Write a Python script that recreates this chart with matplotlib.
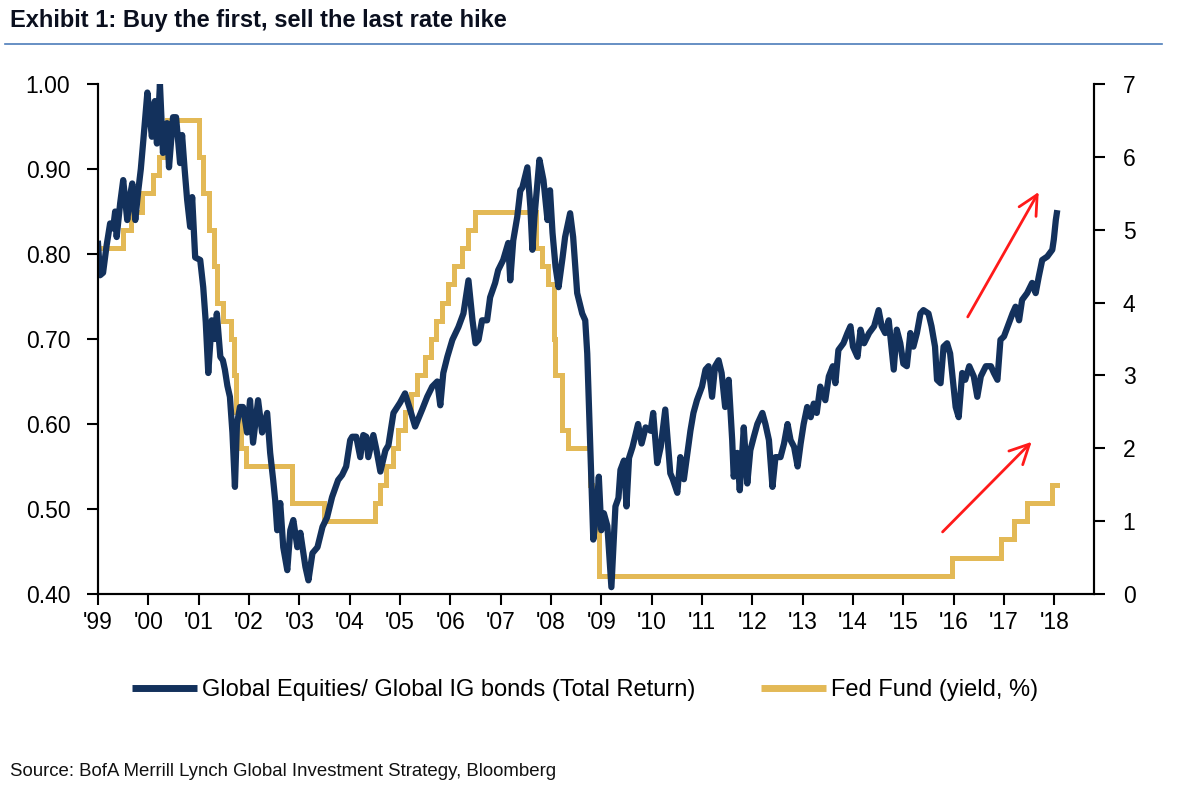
import matplotlib
matplotlib.use("Agg")
import matplotlib.pyplot as plt
from matplotlib.lines import Line2D

plt.rcParams["font.family"] = ["Liberation Sans", "DejaVu Sans"]

# Global equities / global IG bonds total return ratio
eq_year = [
    1999.00, 1999.04, 1999.10, 1999.17, 1999.24, 1999.30, 1999.34, 1999.37, 1999.44, 1999.50,
    1999.58, 1999.64, 1999.68, 1999.74, 1999.80, 1999.85, 1999.90, 1999.98, 2000.03, 2000.07,
    2000.13, 2000.17, 2000.23, 2000.29, 2000.33, 2000.37, 2000.41, 2000.49, 2000.55, 2000.63,
    2000.67, 2000.72, 2000.77, 2000.83, 2000.87, 2000.93, 2001.03, 2001.09, 2001.14, 2001.19,
    2001.26, 2001.32, 2001.36, 2001.43, 2001.48, 2001.52, 2001.57, 2001.62, 2001.67, 2001.72,
    2001.76, 2001.82, 2001.88, 2001.96, 2002.02, 2002.08, 2002.18, 2002.26, 2002.36, 2002.42,
    2002.48, 2002.52, 2002.56, 2002.62, 2002.68, 2002.76, 2002.82, 2002.88, 2002.96, 2003.02,
    2003.12, 2003.18, 2003.26, 2003.36, 2003.46, 2003.55, 2003.65, 2003.77, 2003.85, 2003.93,
    2004.01, 2004.05, 2004.13, 2004.21, 2004.27, 2004.33, 2004.37, 2004.47, 2004.53, 2004.61,
    2004.71, 2004.77, 2004.87, 2005.00, 2005.10, 2005.20, 2005.30, 2005.44, 2005.54, 2005.64,
    2005.74, 2005.80, 2005.86, 2005.94, 2006.04, 2006.16, 2006.26, 2006.36, 2006.44, 2006.50,
    2006.56, 2006.63, 2006.73, 2006.79, 2006.89, 2006.95, 2007.05, 2007.15, 2007.19, 2007.25,
    2007.33, 2007.39, 2007.43, 2007.53, 2007.59, 2007.63, 2007.67, 2007.77, 2007.85, 2007.93,
    2007.98, 2008.03, 2008.09, 2008.15, 2008.23, 2008.28, 2008.38, 2008.44, 2008.52, 2008.62,
    2008.68, 2008.72, 2008.78, 2008.84, 2008.90, 2008.95, 2009.00, 2009.05, 2009.12, 2009.20,
    2009.28, 2009.34, 2009.38, 2009.45, 2009.50, 2009.55, 2009.62, 2009.73, 2009.80, 2009.88,
    2009.98, 2010.03, 2010.11, 2010.18, 2010.27, 2010.37, 2010.42, 2010.51, 2010.57, 2010.64,
    2010.71, 2010.77, 2010.83, 2010.90, 2011.00, 2011.07, 2011.13, 2011.20, 2011.26, 2011.33,
    2011.39, 2011.46, 2011.53, 2011.60, 2011.63, 2011.70, 2011.75, 2011.80, 2011.83, 2011.90,
    2011.96, 2012.03, 2012.10, 2012.20, 2012.26, 2012.33, 2012.40, 2012.46, 2012.56, 2012.63,
    2012.70, 2012.76, 2012.83, 2012.90, 2012.96, 2013.02, 2013.09, 2013.16, 2013.22, 2013.28,
    2013.35, 2013.45, 2013.52, 2013.60, 2013.65, 2013.71, 2013.81, 2013.89, 2013.95, 2014.00,
    2014.09, 2014.15, 2014.22, 2014.32, 2014.42, 2014.51, 2014.57, 2014.64, 2014.71, 2014.81,
    2014.87, 2014.94, 2015.00, 2015.07, 2015.14, 2015.20, 2015.27, 2015.34, 2015.40, 2015.50,
    2015.56, 2015.63, 2015.67, 2015.74, 2015.80, 2015.87, 2015.93, 2015.97, 2016.04, 2016.10,
    2016.17, 2016.23, 2016.31, 2016.40, 2016.47, 2016.54, 2016.64, 2016.74, 2016.80, 2016.87,
    2016.93, 2017.00, 2017.10, 2017.17, 2017.23, 2017.30, 2017.36, 2017.46, 2017.56, 2017.63,
    2017.69, 2017.76, 2017.86, 2017.96, 2017.99, 2018.03, 2018.05,
]
eq_ratio = [
    0.812, 0.775, 0.778, 0.810, 0.836, 0.830, 0.850, 0.820, 0.860, 0.887,
    0.840, 0.870, 0.883, 0.840, 0.875, 0.900, 0.934, 0.990, 0.960, 0.938,
    0.980, 0.930, 1.000, 0.919, 0.945, 0.954, 0.902, 0.961, 0.961, 0.907,
    0.940, 0.900, 0.864, 0.832, 0.867, 0.796, 0.793, 0.761, 0.720, 0.660,
    0.722, 0.700, 0.730, 0.679, 0.675, 0.664, 0.645, 0.632, 0.590, 0.526,
    0.600, 0.620, 0.620, 0.590, 0.628, 0.578, 0.628, 0.590, 0.613, 0.566,
    0.534, 0.510, 0.475, 0.507, 0.455, 0.428, 0.475, 0.487, 0.455, 0.472,
    0.432, 0.416, 0.448, 0.455, 0.479, 0.490, 0.514, 0.534, 0.540, 0.550,
    0.581, 0.585, 0.585, 0.561, 0.587, 0.585, 0.561, 0.587, 0.570, 0.544,
    0.569, 0.575, 0.613, 0.625, 0.636, 0.617, 0.597, 0.617, 0.632, 0.644,
    0.650, 0.622, 0.660, 0.679, 0.699, 0.714, 0.730, 0.769, 0.722, 0.695,
    0.699, 0.722, 0.722, 0.749, 0.766, 0.781, 0.793, 0.813, 0.769, 0.816,
    0.844, 0.875, 0.878, 0.902, 0.855, 0.805, 0.843, 0.911, 0.887, 0.840,
    0.875, 0.825, 0.785, 0.761, 0.796, 0.820, 0.848, 0.820, 0.754, 0.730,
    0.722, 0.683, 0.573, 0.464, 0.495, 0.538, 0.475, 0.495, 0.480, 0.408,
    0.503, 0.513, 0.546, 0.557, 0.503, 0.560, 0.573, 0.600, 0.577, 0.596,
    0.592, 0.613, 0.554, 0.573, 0.617, 0.542, 0.535, 0.519, 0.561, 0.535,
    0.566, 0.592, 0.613, 0.628, 0.644, 0.664, 0.668, 0.632, 0.668, 0.675,
    0.660, 0.620, 0.652, 0.581, 0.538, 0.566, 0.522, 0.566, 0.596, 0.530,
    0.569, 0.585, 0.600, 0.613, 0.600, 0.581, 0.526, 0.561, 0.561, 0.577,
    0.600, 0.581, 0.573, 0.550, 0.577, 0.600, 0.620, 0.608, 0.624, 0.613,
    0.644, 0.628, 0.656, 0.668, 0.648, 0.687, 0.695, 0.707, 0.715, 0.691,
    0.679, 0.711, 0.695, 0.707, 0.715, 0.734, 0.715, 0.707, 0.722, 0.664,
    0.711, 0.695, 0.671, 0.668, 0.707, 0.691, 0.707, 0.730, 0.734, 0.730,
    0.715, 0.691, 0.652, 0.648, 0.691, 0.695, 0.683, 0.660, 0.620, 0.608,
    0.660, 0.652, 0.668, 0.656, 0.632, 0.656, 0.668, 0.668, 0.660, 0.652,
    0.699, 0.703, 0.719, 0.730, 0.738, 0.722, 0.746, 0.754, 0.766, 0.754,
    0.773, 0.793, 0.797, 0.805, 0.817, 0.840, 0.848,
]

# Fed funds target rate, % (step changes)
ff_year = [
    1999.00, 1999.49, 1999.65, 1999.88, 2000.09, 2000.22, 2000.38, 2001.01, 2001.08, 2001.21,
    2001.30, 2001.37, 2001.49, 2001.64, 2001.71, 2001.75, 2001.85, 2001.94, 2002.85, 2003.48,
    2004.50, 2004.61, 2004.72, 2004.86, 2004.95, 2005.09, 2005.22, 2005.34, 2005.50, 2005.61,
    2005.72, 2005.83, 2005.95, 2006.08, 2006.24, 2006.36, 2006.49, 2007.71, 2007.83, 2007.94,
    2008.06, 2008.08, 2008.21, 2008.33, 2008.77, 2008.82, 2008.96, 2015.96, 2016.95, 2017.20,
    2017.45, 2017.95, 2018.05,
]
ff_rate = [
    4.75, 5.00, 5.25, 5.50, 5.75, 6.00, 6.50, 6.00, 5.50, 5.00,
    4.50, 4.00, 3.75, 3.50, 3.00, 2.50, 2.00, 1.75, 1.25, 1.00,
    1.25, 1.50, 1.75, 2.00, 2.25, 2.50, 2.75, 3.00, 3.25, 3.50,
    3.75, 4.00, 4.25, 4.50, 4.75, 5.00, 5.25, 4.75, 4.50, 4.25,
    3.50, 3.00, 2.25, 2.00, 1.50, 1.00, 0.25, 0.50, 0.75, 1.00,
    1.25, 1.50, 1.50,
]

years = list(range(1999, 2019))
year_labels = ["'%02d" % (y % 100) for y in years]
left_ticks = [0.40, 0.50, 0.60, 0.70, 0.80, 0.90, 1.00]
right_ticks = list(range(0, 8))

# red arrows (tail -> head) in left-axis data coordinates
arrow_top = ((2016.28, 0.726), (2017.69, 0.873))
arrow_bottom = ((2015.78, 0.473), (2017.55, 0.579))

navy = "#13315C"
gold = "#E3B956"

fig = plt.figure(figsize=(12, 7.93), dpi=100)
ax = fig.add_axes([0.0817, 0.251, 0.8296, 0.643])
ax2 = ax.twinx()

ax2.step(ff_year, ff_rate, where="post", color=gold, lw=3.6, solid_joinstyle="miter")
ax.plot(eq_year, eq_ratio, color=navy, lw=4.5, solid_joinstyle="round")
ax.set_zorder(ax2.get_zorder() + 1)
ax.patch.set_visible(False)

ax.set_xlim(1999, 2018.78)
ax.set_ylim(0.40, 1.00)
ax2.set_ylim(0, 7)

ax.set_xticks(years)
ax.set_xticklabels(year_labels)
ax.set_yticks(left_ticks)
ax.set_yticklabels(["%.2f" % v for v in left_ticks])
ax2.set_yticks(right_ticks)

for a in (ax, ax2):
    a.spines["top"].set_visible(False)
    for s in a.spines.values():
        s.set_linewidth(1.5)
ax.tick_params(axis="x", length=8, width=1.5, pad=4, labelsize=16.5)
ax.tick_params(axis="y", length=8, width=1.5, pad=12, labelsize=16.5)
ax2.tick_params(axis="y", length=8, width=1.5, pad=13, labelsize=16.5)

for (x0, y0), (x1, y1) in (arrow_top, arrow_bottom):
    ax.annotate("", xy=(x1, y1), xytext=(x0, y0),
                arrowprops=dict(arrowstyle="->,head_length=0.7,head_width=0.35",
                                color="#FF1A1A", lw=2.0, mutation_scale=20,
                                shrinkA=0, shrinkB=0))

handles = [Line2D([], [], color=navy, lw=5, solid_capstyle="butt"),
           Line2D([], [], color=gold, lw=5, solid_capstyle="butt")]
fig.legend(handles, ["Global Equities/ Global IG bonds (Total Return)", "Fed Fund (yield, %)"],
           loc="center", bbox_to_anchor=(0.4875, 0.13), ncol=2, frameon=False,
           fontsize=17, handlelength=2.75, handletextpad=0.2, columnspacing=2.8)

fig.text(0.008, 1 - 20 / 793, "Exhibit 1: Buy the first, sell the last rate hike",
         fontsize=17, fontweight="bold", color="#0A0F1E", va="center", ha="left")
fig.add_artist(Line2D([0.004, 0.968], [1 - 44 / 793, 1 - 44 / 793],
                      color="#4D7DBA", lw=1.2, transform=fig.transFigure))
fig.text(0.008, 1 - 771 / 793, "Source: BofA Merrill Lynch Global Investment Strategy, Bloomberg",
         fontsize=13.4, color="#111111", va="center", ha="left")

fig.savefig("out.png", dpi=100)
plt.close(fig)
